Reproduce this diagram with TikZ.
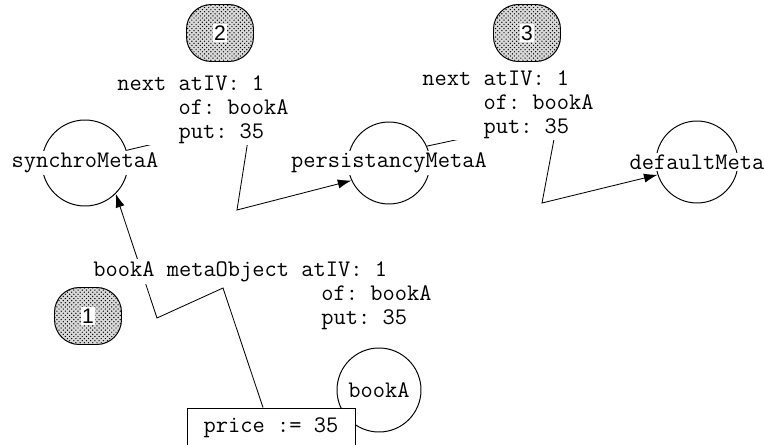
\documentclass[tikz,border=0pt]{standalone}
\usepackage{fontspec}
\newfontfamily\numfont{Liberation Sans}
\usetikzlibrary{arrows.meta,backgrounds,patterns}
\frenchspacing

\begin{document}
\begin{tikzpicture}[
  every node/.style={font=\ttfamily\fontsize{16.9}{17}\selectfont},
  obj/.style={circle,draw,line width=0.7pt,minimum size=#1,inner sep=0pt},
  obj/.default=2.1cm,
  lbl/.style={fill=white,inner sep=1pt},
  txt/.style={fill=white,inner sep=1.5pt,anchor=base west,align=left},
  msg/.style={line width=0.6pt,-{Latex[length=3.4mm,width=2.3mm]}},
  tag/.style={draw,line width=0.7pt,rounded corners=0.62cm,minimum width=1.675cm,
    minimum height=1.425cm,preaction={fill=black!15},pattern=crosshatch dots,pattern color=black},
  num/.style={fill=white,inner sep=1pt,font=\numfont\fontsize{15}{17}\selectfont}]
\useasboundingbox (0,0) rectangle (19.1,11.1);

% message texts (anchored at the last line)
\node[txt] (msgone) at (2.275,4.2) {bookA metaObject atIV: 1};
\node[txt] (argone) at (7.975,3.0) {of: bookA\\put: 35};
\node[txt] (msgtwo) at (2.875,7.65) {next atIV: 1\\\hphantom{next }of: bookA\\\hphantom{next }put: 35};
\node[txt] (msgthree) at (10.5,7.775) {next atIV: 1\\\hphantom{next }of: bookA\\\hphantom{next }put: 35};

% objects
\node[obj=2.15cm] (synchro) at (2.125,7.025) {};
\node[obj=2.05cm] (persist) at (9.725,7.025) {};
\node[obj=2.05cm] (default) at (17.425,7.05) {};
\node[obj] (book) at (9.475,1.35) {};
\node[lbl] (synchrolbl) at (synchro) {synchroMetaA};
\node[lbl] (persistlbl) at (persist) {persistancyMetaA};
\node[lbl] (defaultlbl) at (default) {defaultMeta};
\node[lbl] (booklbl) at (book) {bookA};
\node[draw,fill=white,line width=0.7pt,minimum width=4.2cm,minimum height=1cm] (price) at (6.775,0.4) {price := 35};

% numbered steps
\node[tag] (tagone) at (2.2,3.2) {};
\node[tag] (tagtwo) at (5.5,10.275) {};
\node[tag] (tagthree) at (13.175,10.275) {};
\node[num] (numone) at (tagone) {1};
\node[num] (numtwo) at (tagtwo) {2};
\node[num] (numthree) at (tagthree) {3};

\coordinate (kinka) at (5.575,3.9);
\coordinate (kinkb) at (3.925,3.15);
\coordinate (kinkc) at (6.275,8.075);
\coordinate (kinkd) at (5.925,5.85);
\coordinate (kinke) at (13.95,8.15);
\coordinate (kinkf) at (13.55,6.025);

\begin{scope}[on background layer]
\draw[msg] ([xshift=-0.2cm]price.north) -- (kinka) -- (kinkb) -- (synchro.-45);
\draw[msg] (synchro.17) -- (kinkc) -- (kinkd) -- (persist.205);
\draw[msg] (persist.24) -- (kinke) -- (kinkf) -- (default.198);
\end{scope}

\end{tikzpicture}
\end{document}
